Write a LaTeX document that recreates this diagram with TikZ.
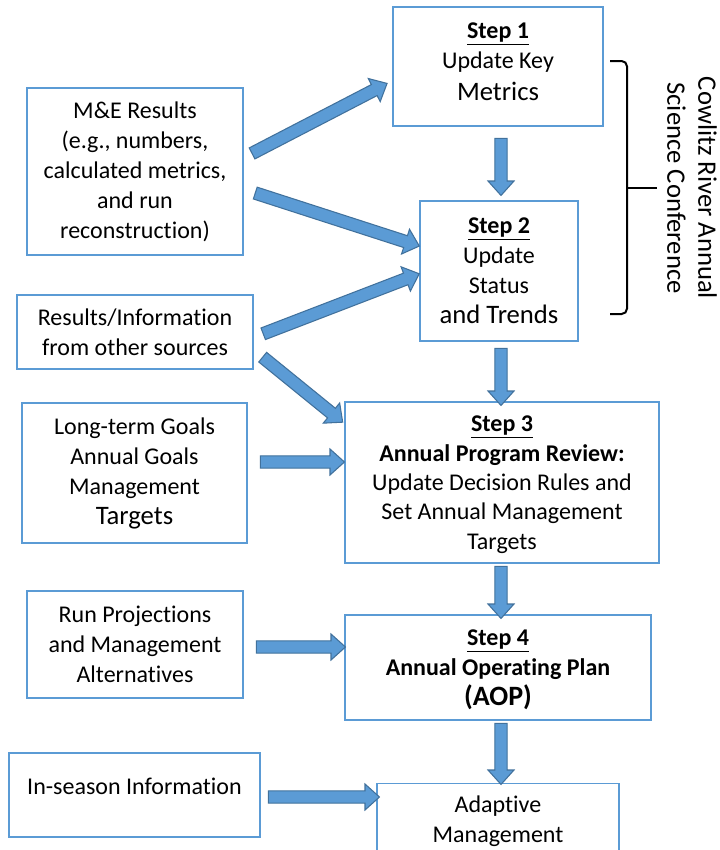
\documentclass[tikz,border=0pt]{standalone}
\usepackage{fontspec}
\setmainfont{Carlito}[Ligatures=NoCommon]
\usetikzlibrary{shapes.arrows,calc}
\definecolor{boxblue}{HTML}{5B9BD5}
\definecolor{arrfill}{HTML}{5B9BD5}
\definecolor{arrline}{HTML}{41719C}
\tikzset{
  box/.style={draw=boxblue, line width=1pt, fill=white, inner sep=0pt, align=center, font=\fontsize{18}{22.5}\selectfont},
  sz/.style 2 args={minimum width=#1*0.75pt, minimum height=#2*0.75pt},
  txt/.style={inner sep=0pt, align=center, font=\fontsize{18}{22.5}\selectfont},
  blk/.style={single arrow, draw=arrline, fill=arrfill, line width=0.8pt, inner xsep=0pt, inner ysep=4.25pt,
    minimum width=0pt, single arrow head extend=5.1pt, single arrow tip angle=84,
    single arrow head indent=0pt, anchor=center},
  brk/.style={draw=black, line width=1.5pt, rounded corners=4pt},
}
\newcommand\blockarrow[2]{\path let \p1=(#1), \p2=(#2), \n1={atan2(\y2-\y1,\x2-\x1)}, \n2={veclen(\x2-\x1,\y2-\y1)} in node[blk, rotate=\n1, minimum height=\n2] at ($(#1)!0.5!(#2)$) {};}
\begin{document}
\begin{tikzpicture}[x=0.75pt,y=-0.75pt]
\useasboundingbox (0,0) rectangle (719,850);
\clip (0,0) rectangle (719,850);
\fill[white] (0,0) rectangle (719,850);

% left boxes
\node[box, sz={216}{167}] (me) at (135,171.5) {M\&E Results\\(e.g., numbers,\\calculated metrics,\\and run\\reconstruction)};
\node[box, sz={236}{74}] (res) at (135,332) {Results/Information\\from other sources};
\node[box, sz={225}{140}] (ltg) at (134.5,473) {Long-term Goals\\Annual Goals\\Management\\{\fontsize{20}{22.5}\selectfont Targets}};
\node[box, sz={216}{107}] (rp) at (135,644.5) {Run Projections\\and Management\\Alternatives};
\node[box, sz={251}{84}] (ins) at (134.5,795) {};
\node[txt] (instxt) at (134.5,786) {In-season Information};

% step boxes
\node[box, sz={210}{119}, text depth=7pt] (s1) at (498,66.5) {\underline{\textbf{Step 1}}\\Update Key\\[1.5pt]{\fontsize{20}{22.5}\selectfont Metrics}};
\node[box, sz={158}{140}] (s2) at (499,271) {\underline{\textbf{Step 2}}\\Update\\Status\\{\fontsize{20}{22.5}\selectfont and Trends}};
\node[box, sz={314}{161}, text depth=0pt, font=\fontsize{18}{22}\selectfont] (s3) at (502,482.5) {\underline{\textbf{Step 3}}\\\textbf{Annual Program Review:}\\Update Decision Rules and\\Set Annual Management\\Targets};
\node[box, sz={306}{105}, text depth=0pt] (s4) at (498,667.5) {\underline{\textbf{Step 4}}\\\textbf{Annual Operating Plan}\\{\fontsize{21}{22.5}\selectfont\textbf{(AOP)}}};
\node[box, sz={242}{75}] (ad) at (498,821) {Adaptive\\Management};

% arrow end coordinates
\coordinate (a1s) at (249,155); \coordinate (a1e) at (384,85);
\coordinate (a2s) at (252,192); \coordinate (a2e) at (416,245);
\coordinate (a3s) at (260,335); \coordinate (a3e) at (416,275);
\coordinate (a4s) at (260,355); \coordinate (a4e) at (340,420);
\coordinate (a5s) at (257,462); \coordinate (a5e) at (341,462);
\coordinate (a6s) at (253,647); \coordinate (a6e) at (342,647);
\coordinate (a7s) at (265,797); \coordinate (a7e) at (376,797);
\coordinate (v1s) at (501,135); \coordinate (v1e) at (501,192);
\coordinate (v2s) at (501,345); \coordinate (v2e) at (501,402);
\coordinate (v3s) at (501,563); \coordinate (v3e) at (501,615);
\coordinate (v4s) at (501,720); \coordinate (v4e) at (501,781);

\blockarrow{a1s}{a1e}
\blockarrow{a2s}{a2e}
\blockarrow{a3s}{a3e}
\blockarrow{a4s}{a4e}
\blockarrow{a5s}{a5e}
\blockarrow{a6s}{a6e}
\blockarrow{a7s}{a7e}
\blockarrow{v1s}{v1e}
\blockarrow{v2s}{v2e}
\blockarrow{v3s}{v3e}
\blockarrow{v4s}{v4e}

% bracket
\coordinate (bt) at (610,61);
\coordinate (bb) at (610,314);
\coordinate (bm) at (627,188);
\coordinate (bx) at (657,188);
\draw[brk] (bt) -- (627,61) -- (627,314) -- (bb);
\draw[line width=1.5pt] (bm) -- (bx);
\node[txt, rotate=-90, font=\fontsize{20}{23.25}\selectfont] (conf) at (692,188) {Cowlitz River Annual\\Science Conference};
\end{tikzpicture}
\end{document}
